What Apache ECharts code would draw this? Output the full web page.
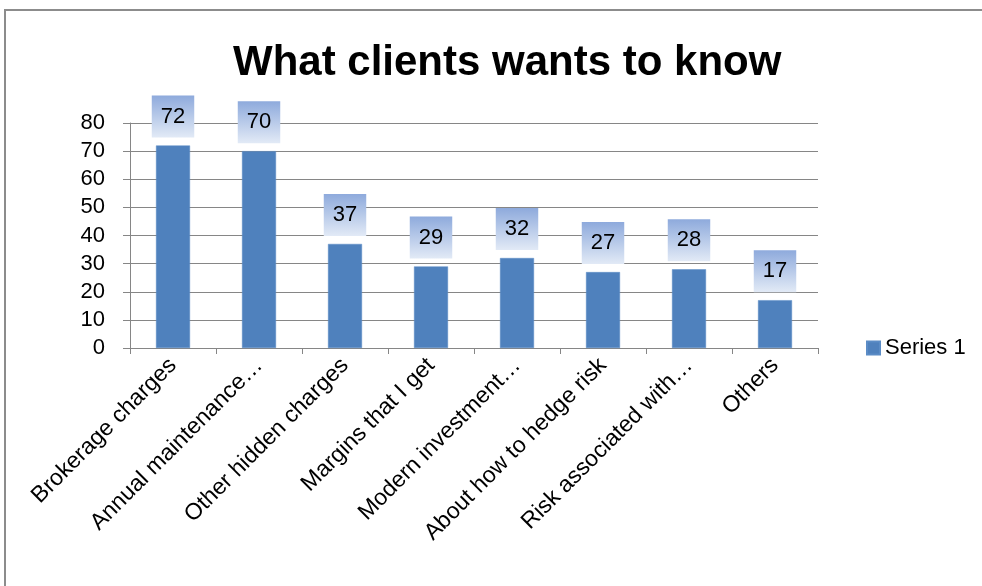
<!DOCTYPE html>
<html>
<head>
<meta charset="utf-8">
<script src="https://cdn.jsdelivr.net/npm/echarts@6/dist/echarts.min.js"></script>
<style>
  html, body { margin: 0; padding: 0; background: #fff; }
  #chart { width: 982px; height: 586px; }
</style>
</head>
<body>
<div id="chart"></div>
<script>
// Categories and values of the survey
const categories = [
  'Brokerage charges',
  'Annual maintenance…',
  'Other hidden charges',
  'Margins that I get',
  'Modern investment…',
  'About how to hedge risk',
  'Risk associated with…',
  'Others'
];
const series1 = [72, 70, 37, 29, 32, 27, 28, 17];
const yTicks = { min: 0, max: 80, interval: 10 };

const FONT = 'Liberation Sans';
const chart = echarts.init(document.getElementById('chart'));

chart.setOption({
  animation: false,
  backgroundColor: '#fff',
  textStyle: { fontFamily: FONT },
  graphic: [{
    type: 'rect',
    shape: { x: 5, y: 10, width: 1000, height: 600 },
    style: { fill: 'none', stroke: '#8c8c8c', lineWidth: 2 },
    silent: true
  }],
  title: {
    text: 'What clients wants to know',
    left: 228,
    top: 37,
    textStyle: { fontFamily: FONT, fontWeight: 'bold', fontSize: 42, color: '#000' }
  },
  legend: {
    data: ['Series 1'],
    orient: 'vertical',
    left: 861,
    top: 332,
    itemWidth: 13,
    itemHeight: 13,
    itemGap: 6,
    icon: 'rect',
    textStyle: { fontFamily: FONT, fontSize: 22, color: '#000' }
  },
  grid: { left: 130, right: 164, top: 123, bottom: 238, containLabel: false },
  xAxis: {
    type: 'category',
    data: categories,
    axisLine: { lineStyle: { color: '#868686', width: 1 } },
    axisTick: { show: true, length: 6, lineStyle: { color: '#868686' } },
    axisLabel: {
      rotate: 45,
      interval: 0,
      margin: 14,
      fontSize: 23,
      color: '#000',
      fontFamily: FONT
    }
  },
  yAxis: {
    type: 'value',
    min: yTicks.min,
    max: yTicks.max,
    interval: yTicks.interval,
    axisLine: { show: true, lineStyle: { color: '#868686', width: 1 } },
    axisTick: { show: true, length: 7, lineStyle: { color: '#868686' } },
    splitLine: { lineStyle: { color: '#868686', width: 1 } },
    axisLabel: { fontSize: 22, color: '#000', margin: 25, fontFamily: FONT }
  },
  series: [{
    name: 'Series 1',
    type: 'bar',
    data: series1,
    barWidth: 34,
    itemStyle: { color: '#4f81bd', borderColor: '#5b8cc6', borderWidth: 0.5 },
    label: {
      show: true,
      position: 'top',
      distance: 8,
      fontSize: 22,
      color: '#000',
      fontFamily: FONT,
      lineHeight: 24,
      padding: [9, 9],
      backgroundColor: new echarts.graphic.LinearGradient(0, 0, 0, 1, [
        { offset: 0, color: '#8eaadc' },
        { offset: 1, color: '#e2eaf6' }
      ])
    }
  }]
});
</script>
</body>
</html>
